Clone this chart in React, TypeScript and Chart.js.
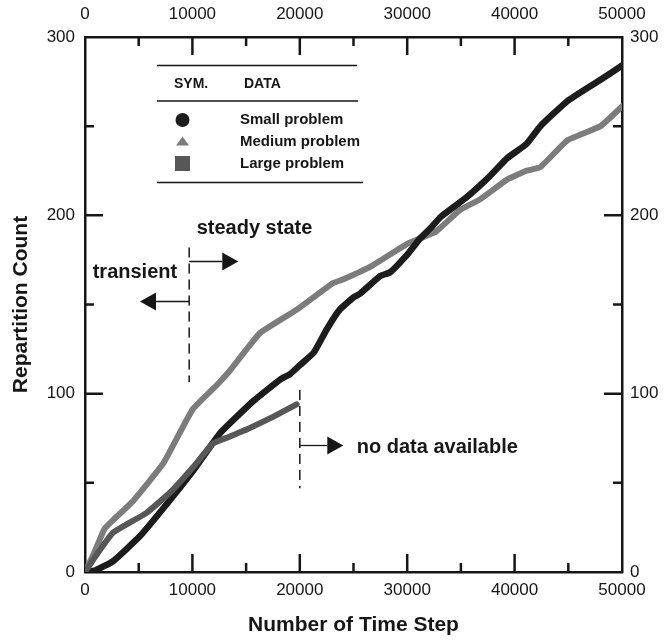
import React, { useEffect, useRef } from "react";
import { Chart, registerables } from "chart.js";

Chart.register(...registerables);

// ---- data ----
const smallX = [0, 1000, 2600, 5100, 7600, 10100, 12600, 15700, 18200, 19100, 20000, 21300, 22500, 23700, 25000, 25600, 27500, 28400, 30000, 31200, 32200, 33100, 35500, 37700, 39300, 41100, 42400, 44900, 48000, 50000];
const smallY = [0, 1, 6, 20, 38, 57, 78, 96, 108, 111, 116, 123, 136, 147, 154, 156, 166, 168, 178, 187, 193, 199, 210, 222, 232, 240, 250, 264, 276, 284];

const mediumX = [0, 800, 1800, 2600, 4500, 7300, 10000, 12300, 13500, 16300, 19700, 23100, 24000, 26800, 30000, 32700, 34900, 36800, 39300, 41100, 42400, 44900, 48000, 50000];
const mediumY = [0, 10, 24, 29, 40, 61, 91, 105, 113, 134, 147, 162, 164, 172, 184, 191, 203, 209, 220, 225, 227, 242, 250, 261];

const largeX = [0, 1000, 2600, 5700, 8000, 10100, 11900, 13500, 15100, 17500, 19700];
const largeY = [0, 9, 22, 33, 45, 59, 72, 76, 80, 87, 94];

const seriesLabels = ["Small problem", "Medium problem", "Large problem"];
const legendHeaders = ["SYM.", "DATA"];

const xTickValues = [0, 10000, 20000, 30000, 40000, 50000];
const yTickValues = [0, 100, 200, 300];
const xMinorValues = [5000, 10000, 15000, 20000, 25000, 30000, 35000, 40000, 45000];
const yMinorValues = [50, 100, 150, 200, 250];

const axisTitleX = "Number of Time Step";
const axisTitleY = "Repartition Count";

// annotation values (data units)
const transientBoundaryX = 9700;
const transientBoundaryY = [106.5, 182];
const steadyArrow = { y: 174.4, tipX: 14270 };
const transientArrow = { y: 152.1, tipX: 5120 };
const noDataBoundaryX = 20000;
const noDataBoundaryY = [47, 102];
const noDataArrow = { y: 71.2, tipX: 24050 };
const annotationTexts = [
  { text: "steady state", x: 10400, y: 189.4 },
  { text: "transient", x: 717, y: 164.9 },
  { text: "no data available", x: 25300, y: 66.9 },
];

const FONT = '"Liberation Sans", Arial, Helvetica, sans-serif';
const INK = "#161616";
const COLORS = ["#1c1c1c", "#7c7c7c", "#575757"];

const toPoints = (xs: number[], ys: number[]) => xs.map((x, i) => ({ x, y: ys[i] }));

const overlayPlugin = {
  id: "overlay",
  afterDraw(chart: any) {
    const { ctx, chartArea } = chart;
    const sx = chart.scales.x;
    const sy = chart.scales.y;
    const { left, right, top, bottom } = chartArea;
    ctx.save();

    // inward ticks
    ctx.strokeStyle = INK;
    ctx.lineWidth = 2.5;
    ctx.beginPath();
    xMinorValues.forEach((v) => {
      const px = sx.getPixelForValue(v);
      const len = v % 10000 === 0 ? 18 : 9;
      ctx.moveTo(px, bottom);
      ctx.lineTo(px, bottom - len);
      ctx.moveTo(px, top);
      ctx.lineTo(px, top + len);
    });
    yMinorValues.forEach((v) => {
      const py = sy.getPixelForValue(v);
      const len = v % 100 === 0 ? 18 : 9;
      ctx.moveTo(left, py);
      ctx.lineTo(left + len, py);
      ctx.moveTo(right, py);
      ctx.lineTo(right - len, py);
    });
    ctx.stroke();

    // dashed boundaries
    ctx.lineWidth = 1.5;
    ctx.setLineDash([10, 6]);
    ctx.beginPath();
    const bx1 = sx.getPixelForValue(transientBoundaryX);
    ctx.moveTo(bx1, sy.getPixelForValue(transientBoundaryY[1]));
    ctx.lineTo(bx1, sy.getPixelForValue(transientBoundaryY[0]));
    const bx2 = sx.getPixelForValue(noDataBoundaryX);
    ctx.moveTo(bx2, sy.getPixelForValue(noDataBoundaryY[1]));
    ctx.lineTo(bx2, sy.getPixelForValue(noDataBoundaryY[0]));
    ctx.stroke();
    ctx.setLineDash([]);

    const arrow = (x0: number, x1: number, yv: number) => {
      const p0 = sx.getPixelForValue(x0);
      const p1 = sx.getPixelForValue(x1);
      const py = Math.round(sy.getPixelForValue(yv)) + 0.5;
      const dir = p1 > p0 ? 1 : -1;
      const headLen = 16;
      const headHalf = 9;
      ctx.lineWidth = 1.3;
      ctx.beginPath();
      ctx.moveTo(p0, py);
      ctx.lineTo(p1 - dir * headLen, py);
      ctx.stroke();
      ctx.beginPath();
      ctx.moveTo(p1, py);
      ctx.lineTo(p1 - dir * headLen, py - headHalf);
      ctx.lineTo(p1 - dir * headLen, py + headHalf);
      ctx.closePath();
      ctx.fillStyle = INK;
      ctx.fill();
    };
    arrow(transientBoundaryX, steadyArrow.tipX, steadyArrow.y);
    arrow(transientBoundaryX, transientArrow.tipX, transientArrow.y);
    arrow(noDataBoundaryX, noDataArrow.tipX, noDataArrow.y);

    // annotation texts
    ctx.fillStyle = INK;
    ctx.font = `bold 20px ${FONT}`;
    ctx.textAlign = "left";
    ctx.textBaseline = "alphabetic";
    annotationTexts.forEach((t) => {
      ctx.fillText(t.text, sx.getPixelForValue(t.x), sy.getPixelForValue(t.y));
    });

    // legend table
    ctx.strokeStyle = INK;
    ctx.lineWidth = 1.6;
    ctx.beginPath();
    ctx.moveTo(157, 65.5);
    ctx.lineTo(357, 65.5);
    ctx.moveTo(157, 101);
    ctx.lineTo(358, 101);
    ctx.moveTo(157, 182.5);
    ctx.lineTo(363, 182.5);
    ctx.stroke();

    ctx.fillStyle = INK;
    ctx.textBaseline = "middle";
    ctx.font = `bold 14px ${FONT}`;
    ctx.fillText(legendHeaders[0], 174, 84);
    ctx.fillText(legendHeaders[1], 244, 84);

    const rowsY = [120, 141.5, 163.5];
    const symX = 182.5;
    ctx.font = `bold 15px ${FONT}`;
    chart.data.datasets.forEach((ds: any, i: number) => {
      const y = rowsY[i];
      ctx.fillStyle = ds.borderColor;
      ctx.beginPath();
      if (ds.pointStyle === "circle") {
        ctx.arc(symX, y, 7, 0, Math.PI * 2);
      } else if (ds.pointStyle === "triangle") {
        ctx.moveTo(symX, y - 5);
        ctx.lineTo(symX + 6.5, y + 4);
        ctx.lineTo(symX - 6.5, y + 4);
        ctx.closePath();
      } else {
        ctx.rect(symX - 7.5, y - 7.5, 15, 15);
      }
      ctx.fill();
      ctx.fillStyle = INK;
      ctx.fillText(ds.label, 240, y);
    });

    ctx.restore();
  },
};

export default function App() {
  const ref = useRef<HTMLCanvasElement | null>(null);

  useEffect(() => {
    document.body.style.margin = "0";
    const canvas = ref.current;
    if (!canvas) return;

    const tickFont = { family: FONT, size: 17 };
    const titleFont = { family: FONT, size: 21, weight: "bold" as const };
    const border = { display: true, width: 2.5, color: INK };
    const grid = { display: false, drawTicks: false, drawOnChartArea: false };
    const plain = (v: any) => String(v);

    const xTicks = (s: any) => {
      s.ticks = xTickValues.map((v) => ({ value: v }));
    };
    const yTicks = (s: any) => {
      s.ticks = yTickValues.map((v) => ({ value: v }));
    };

    const lineBase = {
      pointRadius: 0,
      tension: 0.12,
      borderJoinStyle: "round",
      borderCapStyle: "round",
    };

    const chart = new Chart(canvas, {
      type: "line",
      data: {
        datasets: [
          {
            ...lineBase,
            label: seriesLabels[0],
            data: toPoints(smallX, smallY),
            borderColor: COLORS[0],
            backgroundColor: COLORS[0],
            borderWidth: 6.5,
            pointStyle: "circle",
            order: 1,
          },
          {
            ...lineBase,
            label: seriesLabels[1],
            data: toPoints(mediumX, mediumY),
            borderColor: COLORS[1],
            backgroundColor: COLORS[1],
            borderWidth: 6,
            pointStyle: "triangle",
            order: 2,
          },
          {
            ...lineBase,
            label: seriesLabels[2],
            data: toPoints(largeX, largeY),
            borderColor: COLORS[2],
            backgroundColor: COLORS[2],
            borderWidth: 6,
            pointStyle: "rect",
            order: 0,
          },
        ],
      },
      options: {
        animation: false,
        responsive: false,
        maintainAspectRatio: false,
        layout: { padding: 0 },
        plugins: {
          legend: { display: false },
          tooltip: { enabled: false },
        },
        scales: {
          x: {
            type: "linear",
            position: "bottom",
            min: 0,
            max: 50000,
            afterBuildTicks: xTicks,
            ticks: { padding: 8, font: tickFont, color: INK, maxRotation: 0, autoSkip: false, callback: plain },
            grid,
            border,
            title: { display: true, text: axisTitleX, font: titleFont, color: INK, padding: { top: 0, bottom: 4 } },
            afterFit: (s: any) => {
              s.height = 70;
            },
          },
          x2: {
            type: "linear",
            position: "top",
            min: 0,
            max: 50000,
            afterBuildTicks: xTicks,
            ticks: { padding: 12, font: tickFont, color: INK, maxRotation: 0, autoSkip: false, callback: plain },
            grid,
            border,
            afterFit: (s: any) => {
              s.height = 37;
            },
          },
          y: {
            type: "linear",
            position: "left",
            min: 0,
            max: 300,
            afterBuildTicks: yTicks,
            ticks: { padding: 10, font: tickFont, color: INK, autoSkip: false, callback: plain },
            grid,
            border,
            title: { display: true, text: axisTitleY, font: titleFont, color: INK, padding: { top: 9, bottom: 0 } },
            afterFit: (s: any) => {
              s.width = 85;
            },
          },
          y2: {
            type: "linear",
            position: "right",
            min: 0,
            max: 300,
            afterBuildTicks: yTicks,
            ticks: { padding: 8, font: tickFont, color: INK, autoSkip: false, callback: plain },
            grid,
            border,
            afterFit: (s: any) => {
              s.width = 42;
            },
          },
        },
      } as any,
      plugins: [overlayPlugin],
    });

    return () => chart.destroy();
  }, []);

  return (
    <div style={{ width: 664, height: 642, background: "#fff" }}>
      <canvas ref={ref} width={664} height={642} style={{ display: "block", width: 664, height: 642 }} />
    </div>
  );
}
